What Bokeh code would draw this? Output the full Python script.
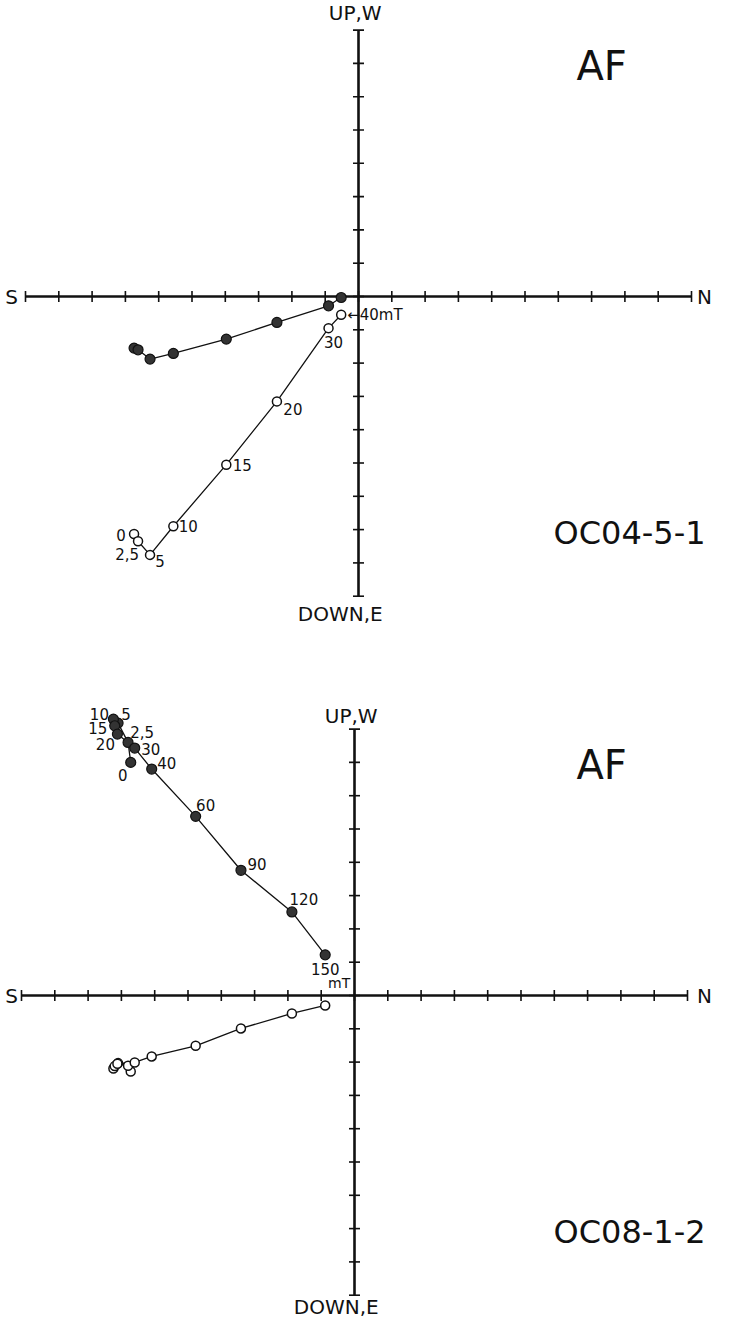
import math
from bokeh.plotting import figure
from bokeh.layouts import column
from bokeh.models import Range1d, ColumnDataSource
from bokeh.core.properties import value
from bokeh.embed import file_html
from bokeh.resources import INLINE

# ---------------- data (axis units) ----------------
# Sample OC04-5-1, AF demagnetisation steps (mT)
steps1 = ["0", "2,5", "5", "10", "15", "20", "30", "40"]
north1 = [-6.74, -6.62, -6.26, -5.56, -3.97, -2.45, -0.90, -0.52]
west1 = [-1.55, -1.60, -1.88, -1.71, -1.28, -0.78, -0.28, -0.03]   # filled (horizontal plane)
up1 = [-7.13, -7.35, -7.76, -6.90, -5.05, -3.15, -0.95, -0.55]     # open (vertical plane)

# Sample OC08-1-2
steps2 = ["0", "2,5", "5", "10", "15", "20", "30", "40", "60", "90", "120", "150"]
north2 = [-6.72, -6.80, -7.10, -7.24, -7.20, -7.12, -6.60, -6.09, -4.77, -3.41, -1.88, -0.88]
west2 = [7.00, 7.60, 8.18, 8.30, 8.10, 7.85, 7.43, 6.80, 5.38, 3.76, 2.51, 1.22]
up2 = [-2.28, -2.11, -2.03, -2.19, -2.12, -2.05, -2.01, -1.83, -1.51, -0.99, -0.54, -0.30]

sample_names = ["OC04-5-1", "OC08-1-2"]
method = "AF"
axis_labels = ["S", "N", "UP,W", "DOWN,E"]
h_ticks = list(range(-10, 11))
v_ticks = list(range(-9, 9))

# ---------------- layout ----------------
UNIT = 33.3
FONT = value("DejaVu Sans")
INK = "#111111"

def make_fig(ox, oy, top, height):
    xs = (8 - ox) / UNIT
    xe = (721 - ox) / UNIT
    ye = (oy - top) / UNIT
    ys = (oy - top - height) / UNIT
    p = figure(width=713, height=height, x_range=Range1d(xs, xe), y_range=Range1d(ys, ye),
               output_backend="svg", toolbar_location=None, min_border=0,
               x_axis_location=None, y_axis_location=None)
    p.grid.visible = False
    p.outline_line_color = None
    # cross axes
    p.segment(x0=[h_ticks[0], 0], y0=[0, v_ticks[0]], x1=[h_ticks[-1], 0], y1=[0, v_ticks[-1]],
              line_width=2.6, line_color=INK)
    p.scatter(h_ticks, [0] * len(h_ticks), marker="dash", size=11, angle=math.pi / 2,
              line_width=1.6, line_color=INK)
    p.scatter([0] * len(v_ticks), v_ticks, marker="dash", size=11,
              line_width=1.6, line_color=INK)
    return p

def frame_labels(p, name, sx, nx, upy, dny, afx, ocx):
    p.text(x=[sx, nx], y=[0, 0], text=axis_labels[:2], text_font=FONT,
           text_font_size="20px", text_align="center", text_baseline="middle", text_color=INK)
    p.text(x=[-0.1, -0.55], y=[upy, dny], text=axis_labels[2:], text_font=FONT,
           text_font_size="20px", text_align="center", text_baseline="middle", text_color=INK)
    p.text(x=[afx], y=[6.93], text=[method], text_font=FONT, text_font_size="40px",
           text_align="center", text_baseline="middle", text_color=INK)
    p.text(x=[ocx], y=[-7.1], text=[name], text_font=FONT, text_font_size="32px",
           text_align="center", text_baseline="middle", text_color=INK)

def series(p, xs, ys, filled):
    p.line(xs, ys, line_width=1.3, line_color=INK)
    if filled:
        p.scatter(xs, ys, marker="circle", size=10, fill_color="#333333",
                  line_color=INK, line_width=1.2)
    else:
        p.scatter(xs, ys, marker="circle", size=9, fill_color="white",
                  line_color=INK, line_width=1.5)

# ---------- plot 1 ----------
p1 = make_fig(366, 304, 8, 655)
frame_labels(p1, sample_names[0], -10.42, 10.39, 8.5, -9.52, 7.30, 8.14)
series(p1, north1, west1, True)
series(p1, north1, up1, False)
lab1 = steps1[:-1] + ["\u2190" + steps1[-1] + "mT"]
src1 = ColumnDataSource(dict(
    x=north1, y=up1, t=lab1,
    dx=[-13, -11, 10, 15, 16, 16, 5, 6],
    dy=[1, 13, 6, 0, 0, 8, 14, 0],
    al=["center"] * 7 + ["left"]))
p1.text(x="x", y="y", text="t", x_offset="dx", y_offset="dy", text_align="al",
        text_baseline="middle", text_font=FONT, text_font_size="15px", text_color=INK, source=src1)

# ---------- plot 2 ----------
p2 = make_fig(362, 1003, 663, 663)
frame_labels(p2, sample_names[1], -10.30, 10.51, 8.4, -9.34, 7.42, 8.26)
series(p2, north2, west2, True)
series(p2, north2, up2, False)
src2 = ColumnDataSource(dict(
    x=north2, y=west2, t=steps2,
    dx=[-8, 14, 8, -14, -17, -12, 16, 15, 10, 16, 12, 0],
    dy=[13, -10, -9, -5, 2, 10, 1, -6, -11, -6, -13, 14]))
p2.text(x="x", y="y", text="t", x_offset="dx", y_offset="dy", text_align="center",
        text_baseline="middle", text_font=FONT, text_font_size="15px", text_color=INK, source=src2)
p2.text(x=[north2[-1]], y=[west2[-1]], text=["mT"], x_offset=[14], y_offset=[28],
        text_align="center", text_baseline="middle", text_font=FONT, text_font_size="14px",
        text_color=INK)

layout = column(p1, p2, spacing=0)
open("out.html", "w").write(file_html(layout, INLINE))
